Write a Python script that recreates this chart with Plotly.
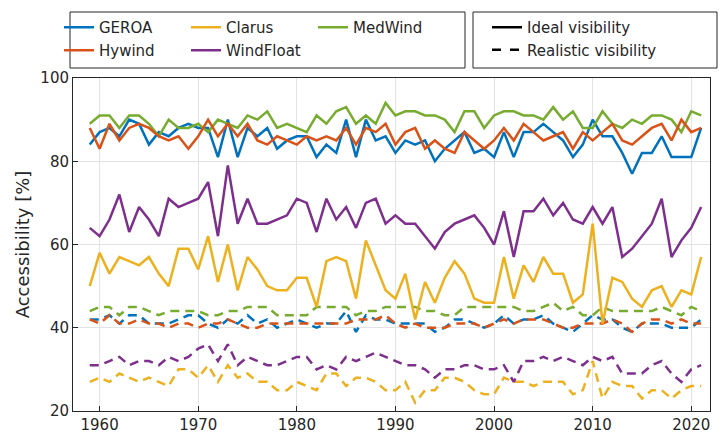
import plotly.graph_objects as go

years = list(range(1959, 2022))

geroa_ideal = [84,87,88,86,90,89,84,87,86,88,89,88,88,81,90,81,88,86,88,83,85,86,86,81,84,82,90,81,90,85,86,82,
               85,84,85,80,83,85,87,82,83,81,87,81,87,87,89,87,85,81,84,90,86,86,82,77,82,82,86,81,81,81,88]
hywind_ideal = [88,83,89,85,88,89,88,86,85,86,83,86,90,86,89,86,89,85,84,86,85,84,86,85,86,85,88,84,88,87,89,84,
                87,88,83,85,83,82,87,85,83,85,88,85,89,87,85,86,87,83,87,85,87,89,85,84,86,88,89,85,90,87,88]
medwind_ideal = [89,91,91,88,91,91,89,86,90,88,88,89,87,90,89,88,91,90,92,88,89,88,87,91,89,92,93,89,91,89,94,91,
                 92,92,91,91,90,87,92,92,88,91,92,92,91,91,90,93,90,92,88,88,92,89,88,90,89,91,91,90,87,92,91]
windfloat_ideal = [64,62,66,72,63,69,66,62,71,69,70,71,75,62,79,65,71,65,65,66,67,71,70,63,71,66,69,64,70,71,65,67,
                   65,65,62,59,63,65,66,67,64,60,68,57,68,68,71,67,70,66,65,69,65,69,57,59,62,65,71,57,61,64,69]
clarus_ideal = [50,58,53,57,56,55,57,53,50,59,59,54,62,51,60,49,57,54,50,49,49,52,52,45,56,57,56,47,61,55,49,47,
                53,42,51,46,52,56,53,47,46,46,57,47,55,51,57,53,53,46,48,65,41,52,51,47,45,49,50,45,49,48,57]

geroa_real = [42,42,43,41,43,43,41,41,41,42,43,43,41,40,42,41,43,41,42,40,41,42,41,40,41,41,44,39,43,42,42,41,
              41,41,41,39,40,42,42,41,40,41,43,41,42,42,43,41,40,39,41,43,42,42,40,39,41,41,41,40,40,40,42]
hywind_real = [42,41,43,41,41,42,41,41,40,41,41,40,41,41,42,41,40,40,41,41,41,41,41,41,41,41,41,42,42,42,43,41,
               40,41,40,40,40,41,41,41,40,41,42,41,42,42,42,41,40,40,41,41,41,42,41,39,41,42,42,41,42,41,41]
medwind_real = [44,45,45,43,45,45,44,43,44,44,44,44,43,43,44,44,45,45,45,43,43,43,43,45,45,45,45,43,44,44,45,45,
                45,45,44,44,43,43,45,45,45,45,45,45,44,44,45,46,44,45,43,43,45,44,44,44,44,44,45,44,43,45,44]
windfloat_real = [31,31,32,33,31,32,32,31,33,32,33,35,36,32,36,31,33,32,31,31,32,33,33,30,31,30,33,32,33,34,33,32,
                  31,31,30,28,30,30,31,31,30,30,31,27,32,32,33,32,33,32,31,33,32,33,29,29,29,31,32,29,27,30,31]
clarus_real = [27,28,27,29,28,27,28,27,26,30,30,28,31,27,31,28,29,27,27,25,25,27,26,25,29,29,26,28,28,27,25,25,
               27,22,25,25,28,28,27,25,24,24,28,27,27,26,27,27,27,24,25,32,23,27,26,26,23,25,25,23,25,26,26]

series = [
    ("GEROA", "#0072BD", geroa_ideal, geroa_real, "legend"),
    ("Clarus", "#EDB120", clarus_ideal, clarus_real, "legend"),
    ("MedWind", "#77AC30", medwind_ideal, medwind_real, "legend"),
    ("Hywind", "#D95319", hywind_ideal, hywind_real, "legend3"),
    ("WindFloat", "#7E2F8E", windfloat_ideal, windfloat_real, "legend3"),
]

fig = go.Figure()
for name, col, ideal, real, lg in series:
    fig.add_trace(go.Scatter(x=years, y=real, mode="lines", showlegend=False,
                             line=dict(color=col, width=2.5, dash="9px,6px")))
for name, col, ideal, real, lg in series:
    fig.add_trace(go.Scatter(x=years, y=ideal, mode="lines", name=name, legend=lg,
                             line=dict(color=col, width=2.5)))

fig.add_trace(go.Scatter(x=[None], y=[None], mode="lines", name="Ideal visibility", legend="legend2",
                         line=dict(color="black", width=2.5)))
fig.add_trace(go.Scatter(x=[None], y=[None], mode="lines", name="Realistic visibility", legend="legend2",
                         line=dict(color="black", width=2.5, dash="dash")))

W, H = 722, 443
L, R, T, B = 73, 12, 78, 32
pw, ph = W - L - R, H - T - B

def px(x):
    return (x - L) / pw

def py(y):
    return (H - B - y) / ph

leg_common = dict(orientation="h", xref="container", yref="container", xanchor="left", yanchor="top",
                  itemwidth=30, entrywidth=82, entrywidthmode="pixels", borderwidth=0,
                  font=dict(size=15), bgcolor="rgba(0,0,0,0)")

fig.update_layout(
    width=W, height=H,
    margin=dict(l=L, r=R, t=T, b=B, autoexpand=False),
    paper_bgcolor="white", plot_bgcolor="white",
    font=dict(family="DejaVu Sans", size=15, color="#262626"),
    xaxis=dict(range=[1957.3, 2021.9], tickvals=[1960,1970,1980,1990,2000,2010,2020],
               showgrid=True, gridcolor="#e3e3e3", zeroline=False, showline=True, linecolor="#262626",
               linewidth=1, mirror=True, ticks="inside", ticklen=5, tickcolor="#262626"),
    yaxis=dict(range=[20, 100], tickvals=[20,40,60,80,100], title=dict(text="Accessibility [%]", font=dict(size=18), standoff=6),
               showgrid=True, gridcolor="#e3e3e3", zeroline=False, showline=True, linecolor="#262626",
               linewidth=1, mirror=True, ticks="inside", ticklen=5, tickcolor="#262626"),
    legend=dict(x=59/W, y=1-11/H, **leg_common),
    legend3=dict(x=59/W, y=1-34/H, **leg_common),
    legend2=dict(orientation="v", xref="container", yref="container", x=487/W, y=1-11/H,
                 xanchor="left", yanchor="top", itemwidth=30, borderwidth=0,
                 font=dict(size=15), bgcolor="rgba(0,0,0,0)"),
    shapes=[
        dict(type="rect", xref="paper", yref="paper", x0=px(70), x1=px(465), y0=py(68), y1=py(12),
             line=dict(color="#262626", width=1), layer="below"),
        dict(type="rect", xref="paper", yref="paper", x0=px(473), x1=px(717), y0=py(68), y1=py(12),
             line=dict(color="#262626", width=1), layer="below"),
    ],
)

fig.write_html("out.html", config={"displayModeBar": False})
with open("out.html", encoding="utf-8") as f:
    html = f.read()
html = html.replace("<body>", '<body style="margin:0">', 1)
with open("out.html", "w", encoding="utf-8") as f:
    f.write(html)
